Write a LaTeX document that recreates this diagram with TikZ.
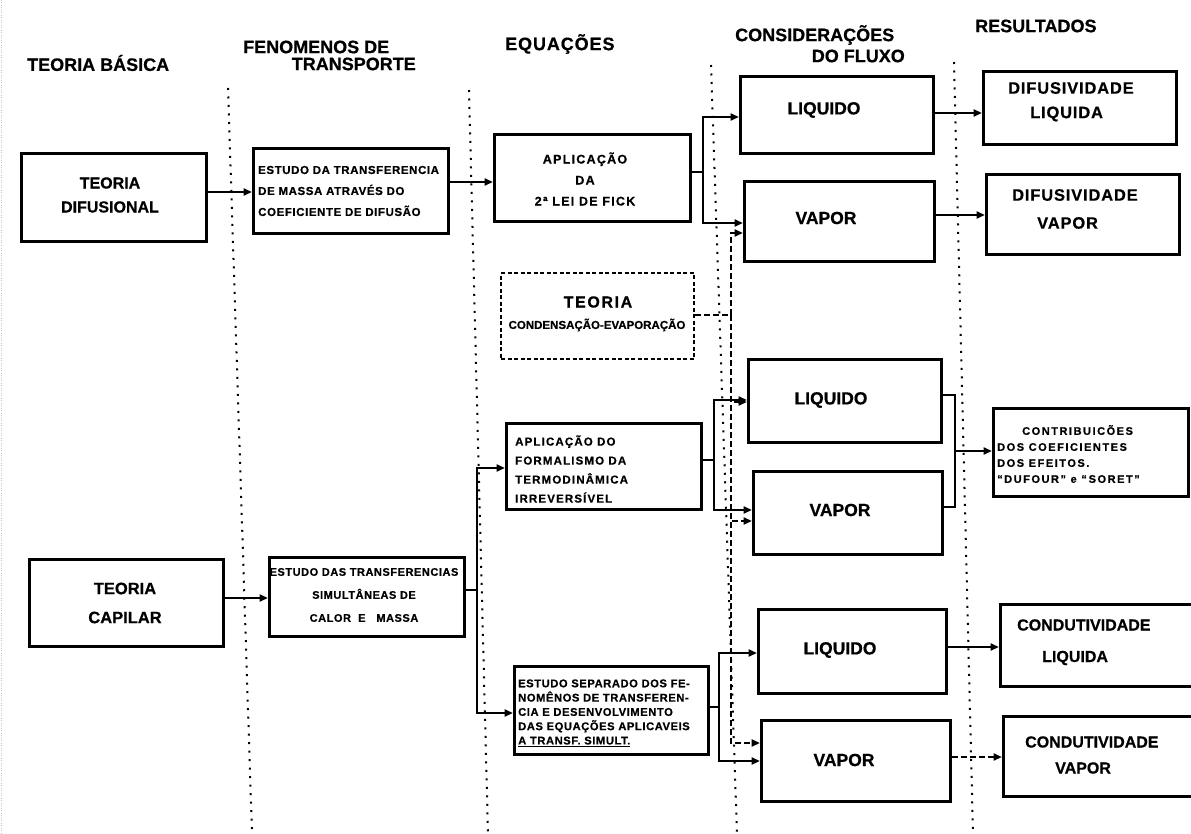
\documentclass[tikz,border=0pt]{standalone}
\usepackage{fontspec}
\setmainfont{Liberation Sans}[BoldFeatures={FakeBold=0.6}]
\newfontfamily\lsA{Liberation Sans}[LetterSpace=5,BoldFeatures={FakeBold=0.6}]
\newfontfamily\lsB{Liberation Sans}[LetterSpace=10,BoldFeatures={FakeBold=0.6}]
\newfontfamily\lsC{Liberation Sans}[LetterSpace=14,BoldFeatures={FakeBold=0.6}]
\usetikzlibrary{arrows.meta,calc}
\tikzset{
  box/.style={draw, line width=2.8pt, inner sep=0pt, anchor=north west},
  dbox/.style={box, line width=2.2pt, dash pattern=on 4pt off 2.5pt},
  conn/.style={line width=2.2pt},
  arr/.style={conn, -{Triangle[length=8.5pt,width=7pt]}},
  darr/.style={arr, dash pattern=on 6pt off 3pt},
  dline/.style={conn, dash pattern=on 6pt off 3pt},
  sepline/.style={line width=2pt, dash pattern=on 2pt off 6.5pt},
  hd/.style={inner sep=0pt, font=\bfseries\fontsize{18}{20}\selectfont},
  hdw/.style={inner sep=0pt, font=\lsA\bfseries\fontsize{18}{20}\selectfont},
  lg/.style={inner sep=0pt, font=\bfseries\fontsize{17.5}{20}\selectfont},
  md/.style={inner sep=0pt, font=\bfseries\fontsize{16}{19}\selectfont},
  mdw/.style={inner sep=0pt, font=\lsA\bfseries\fontsize{16.5}{19}\selectfont},
}
\newcommand\bx[6][box]{\node[#1,minimum width={(#5)-(#3)},minimum height={(#6)-(#4)}] (#2) at (#3,#4) {};}
\begin{document}
\begin{tikzpicture}[x=1pt,y=-1pt]
\useasboundingbox (0,0) rectangle (1191,834);
% scan border
\draw[gray!45, line width=0.8pt, dash pattern=on 1pt off 1.5pt] (1,0) -- (1,834);
% column separators
\draw[sepline] (228,88) -- (252,834);
\draw[sepline] (469,90) -- (488,834);
\draw[sepline] (711,65) -- (737,834);
\draw[sepline] (954,62) -- (973,834);
% headers
\node[hd, anchor=west] (h1) at (27,63) {TEORIA BÁSICA};
\node[hd, anchor=west] (h2a) at (243,47) {FENOMENOS DE};
\node[hd, anchor=east] (h2b) at (416,64) {TRANSPORTE};
\node[hdw, anchor=west] (h3) at (505,44) {EQUAÇÕES};
\node[hd, anchor=west] (h4a) at (735,35) {CONSIDERAÇÕES};
\node[hd, anchor=east] (h4b) at (905,56) {DO FLUXO};
\node[hd, anchor=west] (h5) at (975,26) {RESULTADOS};
% boxes
\bx{b1}{20}{152}{205}{240}
\bx{b2}{252}{147}{447}{232}
\bx{b3}{493}{133}{689}{220}
\bx{b4}{739}{75}{932}{152}
\bx{b5}{743}{180}{933}{260}
\bx{b6}{982}{70}{1175}{143}
\bx{b7}{985}{173}{1178}{253}
\bx[dbox]{b8}{500}{272}{693}{358}
\bx{b9}{747}{358}{940}{441}
\bx{b10}{752}{470}{941}{553}
\bx{b11}{992}{407}{1187}{495}
\bx{b12}{505}{422}{700}{508}
\bx{bc}{28}{558}{222}{645}
\bx{b13}{268}{556}{463}{635}
\bx{b14}{513}{665}{707}{753}
\bx{b15}{757}{608}{945}{692}
\bx{b16}{760}{719}{949}{800}
\bx{b17}{999}{603}{1200}{685}
\bx{b18}{1002}{715}{1200}{795}
% texts
\node[md, align=center, font=\bfseries\fontsize{16}{24}\selectfont] (b1t) at (110,195) {TEORIA\\DIFUSIONAL};
\node[inner sep=0pt, anchor=west, align=left, font=\lsA\bfseries\fontsize{11.5}{21}\selectfont] (b2t) at (258,191) {ESTUDO DA TRANSFERENCIA\\DE MASSA ATRAVÉS DO\\COEFICIENTE DE DIFUSÃO};
\node[inner sep=0pt, align=center, font=\lsB\bfseries\fontsize{12.5}{21}\selectfont] (b3t) at (585,179) {APLICAÇÃO\\DA\\2ª LEI DE FICK};
\node[lg] (b4t) at (824,110) {LIQUIDO};
\node[lg] (b5t) at (826,218) {VAPOR};
\node[mdw, anchor=west] (b6a) at (1008,88) {DIFUSIVIDADE};
\node[mdw, anchor=west] (b6b) at (1030,114) {LIQUIDA};
\node[mdw, anchor=west] (b7a) at (1012,195) {DIFUSIVIDADE};
\node[mdw, anchor=west] (b7b) at (1037,223) {VAPOR};
\node[inner sep=0pt, font=\lsB\bfseries\fontsize{16}{18}\selectfont] (b8a) at (598,302) {TEORIA};
\node[inner sep=0pt, font=\bfseries\fontsize{11.5}{14}\selectfont] (b8b) at (597,325) {CONDENSAÇÃO-EVAPORAÇÃO};
\node[lg] (b9t) at (831,400) {LIQUIDO};
\node[lg] (b10t) at (840,510) {VAPOR};
\node[inner sep=0pt, anchor=west, align=left, font=\lsC\bfseries\fontsize{11}{16}\selectfont] (b11t) at (997,454) {\hspace*{25pt}CONTRIBUICÕES\\DOS COEFICIENTES\\DOS EFEITOS.\\\textquotedblleft DUFOUR\textquotedblright\ e \textquotedblleft\,SORET\textquotedblright};
\node[inner sep=0pt, anchor=west, align=left, font=\lsB\bfseries\fontsize{11.5}{19}\selectfont] (b12t) at (515,469) {APLICAÇÃO DO\\FORMALISMO DA\\TERMODINÂMICA\\IRREVERSÍVEL};
\node[md, align=center, font=\bfseries\fontsize{16.5}{29}\selectfont] (bct) at (125,603) {TEORIA\\CAPILAR};
\node[inner sep=0pt, align=center, font=\lsA\bfseries\fontsize{11}{23}\selectfont] (b13t) at (364,595) {ESTUDO DAS TRANSFERENCIAS\\SIMULTÂNEAS DE\\CALOR~~E~~~MASSA};
\node[inner sep=0pt, anchor=west, align=left, font=\lsA\bfseries\fontsize{11.2}{14.3}\selectfont] (b14t) at (518,713) {ESTUDO SEPARADO DOS FE-\\NOMÊNOS DE TRANSFEREN-\\CIA E DESENVOLVIMENTO\\DAS EQUAÇÕES APLICAVEIS\\\underline{A TRANSF. SIMULT.}};
\node[lg] (b15t) at (840,650) {LIQUIDO};
\node[lg] (b16t) at (844,760) {VAPOR};
\node[md, anchor=west] (b17a) at (1017,625) {CONDUTIVIDADE};
\node[md, anchor=west] (b17b) at (1042,658) {LIQUIDA};
\node[md, anchor=west] (b18a) at (1025,742) {CONDUTIVIDADE};
\node[md, anchor=west] (b18b) at (1055,768) {VAPOR};
% junction points
\coordinate (j1) at (703,172);
\coordinate (dj) at (731,315);
\coordinate (tr) at (477,590);
\coordinate (j2) at (714,460);
\coordinate (j3) at (719,707);
\coordinate (j4) at (955,451);
% connectors
\draw[arr] (b1.east |- 0,192) -- (b2.west |- 0,192);
\draw[arr] (b2.east |- 0,182) -- (b3.west |- 0,182);
\draw[conn] (b3.east |- j1) -- (j1);
\draw[arr] (j1) |- (b4.west |- 0,117);
\draw[arr] (j1) |- (b5.west |- 0,223);
\draw[arr] (b4.east |- 0,113) -- (b6.west |- 0,113);
\draw[arr] (b5.east |- 0,215) -- (b7.west |- 0,215);
% condensation-evaporation (dashed)
\draw[dline] (b8.east |- dj) -- (dj);
\draw[darr] (dj) |- (b5.west |- 0,233);
\draw[darr] (dj) |- (b9.west |- 0,402);
\draw[darr] (dj) |- (b10.west |- 0,521);
\draw[darr] (dj) |- (b16.west |- 0,743);
% capillary branch
\draw[arr] (bc.east |- 0,598) -- (b13.west |- 0,598);
\draw[conn] (b13.east |- tr) -- (tr);
\draw[arr] (tr) |- (b12.west |- 0,468);
\draw[arr] (tr) |- (b14.west |- 0,713);
\draw[conn] (b12.east |- j2) -- (j2);
\draw[arr] (j2) |- (b9.west |- 0,400);
\draw[arr] (j2) |- (b10.west |- 0,510);
\draw[conn] (b14.east |- j3) -- (j3);
\draw[arr] (j3) |- (b15.west |- 0,653);
\draw[arr] (j3) |- (b16.west |- 0,761);
% bracket to contributions
\draw[conn] (b9.east |- 0,395) -| (j4);
\draw[conn] (b10.east |- 0,507) -| (j4);
\draw[arr] (j4) -- (b11.west |- j4);
% conductivities
\draw[arr] (b15.east |- 0,647) -- (b17.west |- 0,647);
\draw[darr] (b16.east |- 0,757) -- (b18.west |- 0,757);
\end{tikzpicture}
\end{document}
